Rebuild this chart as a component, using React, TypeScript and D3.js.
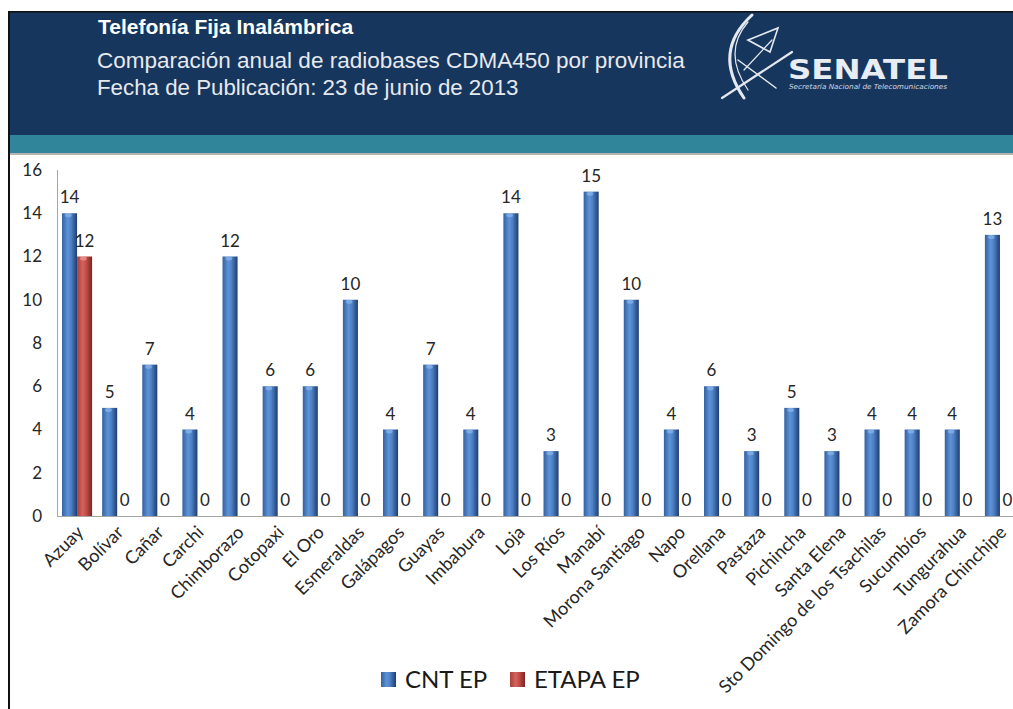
import React, { useEffect, useRef } from 'react';
import * as d3 from 'd3';

// Radiobases CDMA450 por provincia (junio 2013)
const provincias = [
  'Azuay', 'Bolívar', 'Cañar', 'Carchi', 'Chimborazo', 'Cotopaxi', 'El Oro',
  'Esmeraldas', 'Galápagos', 'Guayas', 'Imbabura', 'Loja', 'Los Ríos', 'Manabí',
  'Morona Santiago', 'Napo', 'Orellana', 'Pastaza', 'Pichincha', 'Santa Elena',
  'Sto Domingo de los Tsachilas', 'Sucumbíos', 'Tungurahua', 'Zamora Chinchipe'
];
const cntEp = [14, 5, 7, 4, 12, 6, 6, 10, 4, 7, 4, 14, 3, 15, 10, 4, 6, 3, 5, 3, 4, 4, 4, 13];
const etapaEp = [12, 0, 0, 0, 0, 0, 0, 0, 0, 0, 0, 0, 0, 0, 0, 0, 0, 0, 0, 0, 0, 0, 0, 0];
const seriesNames = ['CNT EP', 'ETAPA EP'];
const yTicks = [0, 2, 4, 6, 8, 10, 12, 14, 16];

const title = 'Telefonía Fija Inalámbrica';
const subtitle = 'Comparación anual de radiobases CDMA450 por provincia';
const fecha = 'Fecha de Publicación: 23 de junio de 2013';

const App = () => {
  const ref = useRef<HTMLDivElement>(null);

  useEffect(() => {
    const W = 1013;
    const H = 709;
    const chartFont = 'Lato, "Open Sans", sans-serif';
    const headFont = '"Liberation Sans", Arial, sans-serif';

    d3.select(ref.current).select('svg').remove();

    const svg = d3.select(ref.current).append('svg')
      .attr('width', W)
      .attr('height', H)
      .style('position', 'absolute')
      .style('left', 0)
      .style('top', 0)
      .style('background', '#fff');

    const defs = svg.append('defs');
    const grad = (id, stops) => {
      const g = defs.append('linearGradient').attr('id', id)
        .attr('x1', '0%').attr('x2', '100%').attr('y1', '0%').attr('y2', '0%');
      stops.forEach(([o, c]) => g.append('stop').attr('offset', o).attr('stop-color', c));
    };
    grad('gBlue', [['0%', '#3361a3'], ['38%', '#5e93d6'], ['60%', '#4d80c4'], ['100%', '#1e3d70']]);
    grad('gRed', [['0%', '#a8403c'], ['38%', '#d6625d'], ['60%', '#c24e4a'], ['100%', '#7a2421']]);
    const fills = ['url(#gBlue)', 'url(#gRed)'];
    const caps = ['#86b0e6', '#e89490'];

    // ---- header ----
    svg.append('rect').attr('x', 10).attr('y', 12).attr('width', W - 10).attr('height', 123).attr('fill', '#17365d');
    svg.append('rect').attr('x', 10).attr('y', 135).attr('width', W - 10).attr('height', 18).attr('fill', '#31859b');
    svg.append('rect').attr('x', 10).attr('y', 153).attr('width', W - 10).attr('height', 2).attr('fill', '#b4b4b4');
    svg.append('rect').attr('x', 8).attr('y', 11).attr('width', W - 8).attr('height', 1.5).attr('fill', '#111');
    svg.append('rect').attr('x', 8).attr('y', 11).attr('width', 2).attr('height', H - 11).attr('fill', '#111');

    svg.append('text').attr('x', 98).attr('y', 34)
      .style('font-family', headFont).style('font-weight', 'bold').style('font-size', '21px')
      .attr('fill', '#ffffff').text(title);
    svg.append('text').attr('x', 97).attr('y', 68)
      .style('font-family', headFont).style('font-size', '22.5px')
      .attr('fill', '#e6e9ee').text(subtitle);
    svg.append('text').attr('x', 97).attr('y', 95)
      .style('font-family', headFont).style('font-size', '22.3px')
      .attr('fill', '#e6e9ee').text(fecha);

    // logo
    const logo = svg.append('g').attr('fill', 'none').attr('stroke', '#e4e9f0').attr('stroke-linecap', 'round');
    logo.append('path').attr('d', 'M752 15 Q712 52 744 98').attr('stroke-width', 3);
    logo.append('path').attr('d', 'M748 22 Q722 52 748 90').attr('stroke-width', 1.2);
    logo.append('path').attr('d', 'M722 98 L792 52').attr('stroke-width', 2.2);
    logo.append('path').attr('d', 'M738 60 L776 88').attr('stroke-width', 1.5);
    logo.append('path').attr('d', 'M748 40 L778 28 L770 52 Z').attr('stroke-width', 1.6);
    logo.append('path').attr('d', 'M744 70 L772 40').attr('stroke-width', 1.2);
    svg.append('text').attr('x', 788).attr('y', 79)
      .attr('textLength', 160).attr('lengthAdjust', 'spacingAndGlyphs')
      .style('font-family', '"DejaVu Sans", sans-serif').style('font-weight', 'bold').style('font-size', '26px')
      .attr('fill', '#e8edf4').text('SENATEL');
    svg.append('text').attr('x', 789).attr('y', 89)
      .attr('textLength', 158).attr('lengthAdjust', 'spacingAndGlyphs')
      .style('font-family', '"DejaVu Sans", sans-serif').style('font-style', 'italic').style('font-size', '7px')
      .attr('fill', '#d0d8e4').text('Secretaría Nacional de Telecomunicaciones');

    // ---- chart ----
    const x0 = d3.scaleBand().domain(provincias).range([57, 1020]).paddingInner(0.25).paddingOuter(0.125);
    const x1 = d3.scaleBand().domain(seriesNames).range([0, x0.bandwidth()]);
    const y = d3.scaleLinear().domain([0, 16]).range([516, 170]);

    const g = svg.append('g');

    // axes
    g.append('line').attr('x1', 57.5).attr('x2', 57.5).attr('y1', y(16)).attr('y2', y(0))
      .attr('stroke', '#a6a6a6');
    g.append('line').attr('x1', 57).attr('x2', 1013).attr('y1', y(0) + 0.5).attr('y2', y(0) + 0.5)
      .attr('stroke', '#a6a6a6');

    g.selectAll('.ytick').data(yTicks).enter().append('text')
      .attr('x', 42).attr('y', d => y(d)).attr('dy', '0.35em')
      .attr('text-anchor', 'end')
      .style('font-family', chartFont).style('font-size', '17px').attr('fill', '#262626')
      .text(d => d);

    const rows = provincias.map((p, i) => ({ p, vals: [cntEp[i], etapaEp[i]] }));
    const grp = g.selectAll('.grp').data(rows).enter().append('g')
      .attr('transform', d => `translate(${x0(d.p)},0)`);

    const bars = grp.selectAll('.bar').data(d => d.vals.map((v, k) => ({ v, k })).filter(d => d.v > 0))
      .enter().append('g');
    bars.append('rect')
      .attr('x', d => x1(seriesNames[d.k]))
      .attr('width', x1.bandwidth())
      .attr('y', d => y(d.v))
      .attr('height', d => y(0) - y(d.v))
      .attr('fill', d => fills[d.k]);
    // small highlight at the top of each bar
    bars.append('ellipse')
      .attr('cx', d => x1(seriesNames[d.k]) + x1.bandwidth() * 0.42)
      .attr('cy', d => y(d.v) + 2)
      .attr('rx', x1.bandwidth() * 0.22)
      .attr('ry', 2)
      .attr('fill', d => caps[d.k])
      .attr('opacity', 0.8);

    grp.selectAll('.lbl').data(d => d.vals.map((v, k) => ({ v, k }))).enter().append('text')
      .attr('x', d => x1(seriesNames[d.k]) + x1.bandwidth() / 2)
      .attr('y', d => y(d.v) - 10)
      .attr('text-anchor', 'middle')
      .style('font-family', chartFont).style('font-size', '17px').attr('fill', '#262626')
      .text(d => d.v);

    // category labels
    g.selectAll('.xl').data(provincias).enter().append('text')
      .attr('transform', d => `translate(${x0(d) + x0.bandwidth() / 2 + 3},${y(0) + 13}) rotate(-45)`)
      .attr('text-anchor', 'end')
      .attr('dy', '0.35em')
      .style('font-family', chartFont).style('font-size', '18px').attr('fill', '#262626')
      .text(d => d);

    // legend
    const legend = svg.append('g');
    const legX = [381, 510];
    seriesNames.forEach((s, k) => {
      legend.append('rect').attr('x', legX[k]).attr('y', 672).attr('width', 15).attr('height', 15)
        .attr('fill', fills[k]);
      legend.append('text').attr('x', legX[k] + 24).attr('y', 688)
        .style('font-family', chartFont).style('font-size', '24px').attr('fill', '#1a1a1a')
        .text(s);
    });
  }, []);

  return <div ref={ref}></div>;
};

export default App;
